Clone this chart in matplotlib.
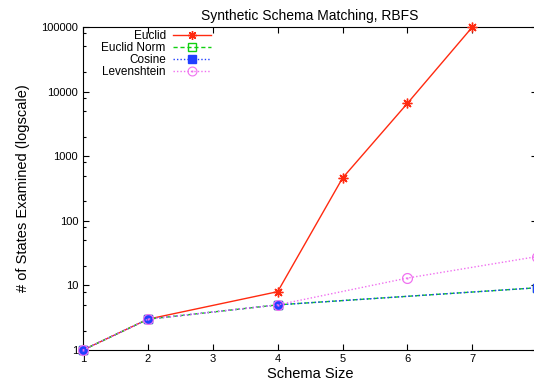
import numpy as np
import matplotlib.pyplot as plt
from matplotlib.ticker import LogLocator, FixedLocator, NullFormatter

plt.rcParams['font.family'] = ['Liberation Sans', 'DejaVu Sans']

# values
euclid_x = [1, 2, 4, 5, 6, 7]
euclid_y = [1, 3, 8, 460, 6600, 100000]
norm_x = [1, 2, 4, 8]
norm_y = [1, 3, 5, 9.2]
cosine_x = [1, 2, 4, 8]
cosine_y = [1, 3, 5, 9.2]
leven_x = [1, 2, 4, 6, 8]
leven_y = [1, 3, 5, 13, 28]
xticks = [1, 2, 3, 4, 5, 6, 7]
yticks = [1, 10, 100, 1000, 10000, 100000]

fig = plt.figure(figsize=(5.34, 3.88), dpi=100)
ax = fig.add_axes([0.1554, 0.0979, 0.8507, 0.8325])

ax.plot(euclid_x, euclid_y, color='#ff2a10', lw=1, marker=(8, 2, 0), ms=7,
        mew=1, label='Euclid', clip_on=False, zorder=3)
ax.plot(norm_x, norm_y, color='#10d010', lw=1, ls=(0, (3, 2)), marker='s', ms=6,
        mfc='none', mew=1, label='Euclid Norm', clip_on=False, zorder=4)
ax.plot(cosine_x, cosine_y, color='#2040ff', lw=1, ls=(0, (1, 1.5)), marker='s', ms=6,
        label='Cosine', clip_on=False, zorder=5)
ax.plot(leven_x, leven_y, color='#f070f0', lw=1, ls=(0, (1, 1.5)), marker=r'$\odot$', ms=8,
        mew=0, label='Levenshtein', clip_on=False, zorder=6)

ax.set_yscale('log')
ax.set_xlim(1, 8)
ax.set_ylim(1, 100000)
ax.set_xticks(xticks)
ax.set_xticklabels([str(v) for v in xticks])
ax.yaxis.set_major_locator(FixedLocator(yticks))
ax.set_yticklabels([str(v) for v in yticks])
ax.yaxis.set_minor_locator(LogLocator(base=10, subs=(2, 5, 8), numticks=20))
ax.yaxis.set_minor_formatter(NullFormatter())
ax.tick_params(direction='in', top=True, right=True, labelsize=8, length=4, width=0.8)
ax.tick_params(which='minor', direction='in', right=True, length=2, width=0.8)
ax.tick_params(axis='x', pad=3)

ax.set_title('Synthetic Schema Matching, RBFS', fontsize=10, pad=5)
ax.set_xlabel('Schema Size', fontsize=10.5, labelpad=2)
ax.set_ylabel('# of States Examined (logscale)', fontsize=10.5, labelpad=8)

leg = ax.legend(loc='upper left', bbox_to_anchor=(0.025, 1.012), frameon=False,
                markerfirst=False, fontsize=8.5, handlelength=3.2, labelspacing=0.0,
                handletextpad=0.6, borderaxespad=0.2, markerscale=0.9)

fig.savefig('out.png', dpi=100)
